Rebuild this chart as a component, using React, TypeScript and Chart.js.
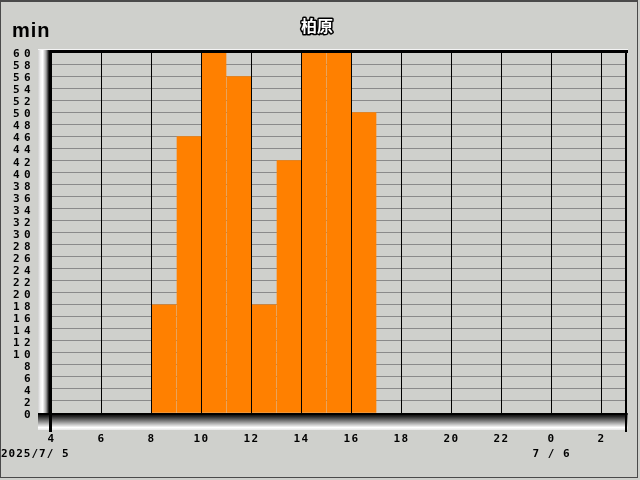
import React, { useEffect, useRef } from 'react';
import { Chart, registerables } from 'chart.js';

Chart.register(...registerables);

// ---- data ----
const stationName = '柏原';
const unitLabel = 'min';
const barStartHours = [8, 9, 10, 11, 12, 13, 14, 15, 16];
const barMinutes = [18, 46, 60, 56, 18, 42, 60, 60, 50];
const xTickHours = [4, 6, 8, 10, 12, 14, 16, 18, 20, 22, 24, 26];
const xTickLabels = ['4', '6', '8', '10', '12', '14', '16', '18', '20', '22', '0', '2'];
const yTickValues = [0, 2, 4, 6, 8, 10, 12, 14, 16, 18, 20, 22, 24, 26, 28, 30, 32, 34, 36, 38, 40, 42, 44, 46, 48, 50, 52, 54, 56, 58, 60];
const dateHours = [4, 24];
const dateLabels = ['2025/7/ 5', '7 / 6'];
const xMin = 4;
const xMax = 27;
const yMin = 0;
const yMax = 60;

// ---- styles ----
const BG = '#cfd0cc';
const BAR = '#ff8000';
const TICK_FONT = 'DejaVu Sans Mono';

const framePlugin = {
  id: 'frame3d',
  beforeDraw(chart: any) {
    const ctx = chart.ctx;
    const { left, right, top, bottom } = chart.chartArea;
    const W = chart.width;
    const H = chart.height;
    ctx.save();
    ctx.fillStyle = BG;
    ctx.fillRect(0, 0, W, H);
    // outer border
    ctx.fillStyle = '#4a4a4a';
    ctx.fillRect(0, 0, W - 2, 2);
    ctx.fillRect(0, 0, 1, H - 2);
    ctx.fillRect(W - 3, 0, 1, H - 2);
    ctx.fillRect(0, H - 3, W - 2, 1);
    // left wall
    const wl = left - 13.5;
    const g1 = ctx.createLinearGradient(wl, 0, left, 0);
    g1.addColorStop(0, '#d0d0d0');
    g1.addColorStop(0.2, '#f4f4f4');
    g1.addColorStop(0.35, '#ffffff');
    g1.addColorStop(0.6, '#a0a0a0');
    g1.addColorStop(0.78, '#202020');
    g1.addColorStop(1, '#000000');
    ctx.fillStyle = g1;
    ctx.fillRect(wl, top - 2.5, left - wl, bottom - top + 2.5);
    // floor
    const g2 = ctx.createLinearGradient(0, bottom, 0, bottom + 17);
    g2.addColorStop(0, '#000000');
    g2.addColorStop(0.18, '#202020');
    g2.addColorStop(0.5, '#888888');
    g2.addColorStop(0.85, '#ffffff');
    g2.addColorStop(1, '#e8e8e8');
    ctx.fillStyle = g2;
    ctx.fillRect(wl, bottom, right + 1 - wl, 17);
    // top highlight
    ctx.fillStyle = '#f4f4f4';
    ctx.fillRect(wl, top - 3.5, right + 1.5 - wl, 1);
    ctx.restore();
    (ctx as any).letterSpacing = '4.4px';
  },
  afterDatasetsDraw(chart: any) {
    (chart.ctx as any).letterSpacing = '1.5px';
  },
  afterDraw(chart: any) {
    const ctx = chart.ctx;
    const { left, right, top, bottom } = chart.chartArea;
    const xs = chart.scales.x;
    ctx.save();
    ctx.fillStyle = '#000';
    // top and right frame
    ctx.fillRect(left - 1.5, top - 2.5, right - left + 3, 3);
    ctx.fillRect(right - 1.5, top - 1.5, 2, bottom - top + 1.5);
    // axes
    ctx.fillRect(left - 13.5, bottom, right + 1 - (left - 13.5), 2);
    ctx.fillRect(left - 2.5, top - 1.5, 3, bottom - top + 20.5);
    ctx.fillRect(right - 1.5, bottom, 2, 19);
    ctx.restore();

    // date labels
    ctx.save();
    (ctx as any).letterSpacing = '1px';
    ctx.font = `bold 11px ${TICK_FONT}`;
    ctx.fillStyle = '#000';
    ctx.textBaseline = 'middle';
    dateHours.forEach((h, i) => {
      const px = xs.getPixelForValue(h);
      if (i === 0) {
        ctx.textAlign = 'left';
        ctx.fillText(dateLabels[i], 1, 454);
      } else {
        ctx.textAlign = 'center';
        ctx.fillText(dateLabels[i], px, 454);
      }
    });
    ctx.restore();

    // title
    ctx.save();
    (ctx as any).letterSpacing = '0px';
    ctx.font = 'bold 16px "Noto Sans CJK JP"';
    ctx.textAlign = 'center';
    ctx.textBaseline = 'middle';
    ctx.lineJoin = 'round';
    ctx.lineWidth = 3;
    ctx.strokeStyle = '#000';
    ctx.strokeText(stationName, 317, 25.5);
    ctx.fillStyle = '#fff';
    ctx.fillText(stationName, 317, 25.5);
    // unit
    ctx.font = 'bold 20px "Liberation Sans"';
    ctx.textAlign = 'left';
    ctx.textBaseline = 'alphabetic';
    ctx.fillStyle = '#000';
    (ctx as any).letterSpacing = '1px';
    ctx.fillText(unitLabel, 12, 37);
    ctx.restore();
    (ctx as any).letterSpacing = '0px';
  },
};

export default function App() {
  const ref = useRef<HTMLCanvasElement>(null);

  useEffect(() => {
    document.body.style.margin = '0';
    const canvas = ref.current;
    if (!canvas) return;
    const chart = new Chart(canvas, {
      type: 'bar',
      data: {
        datasets: [
          {
            data: barStartHours.map((h, i) => ({ x: h + 0.5, y: barMinutes[i] })),
            backgroundColor: BAR,
            borderWidth: 0,
            barThickness: 24,
          },
        ],
      },
      options: {
        animation: false,
        responsive: false,
        devicePixelRatio: 1,
        events: [],
        layout: { padding: { top: 52.5, right: 13.5, left: 0, bottom: 0 } },
        plugins: {
          legend: { display: false },
          title: { display: false },
          tooltip: { enabled: false },
        },
        scales: {
          x: {
            type: 'linear',
            min: xMin,
            max: xMax,
            offset: false,
            grid: { offset: false, color: '#000', lineWidth: 1, drawTicks: false, z: 1 },
            border: { display: false },
            ticks: {
              z: 2,
              autoSkip: false,
              maxRotation: 0,
              padding: 20,
              color: '#000',
              font: { family: TICK_FONT, size: 11, weight: 'bold' },
              callback: (v: any) => {
                const i = xTickHours.indexOf(Number(v));
                return i >= 0 ? xTickLabels[i] : '';
              },
            },
            afterBuildTicks: (scale: any) => {
              scale.ticks = xTickHours.map((v) => ({ value: v }));
            },
            afterFit: (scale: any) => {
              scale.height = 67;
            },
          },
          y: {
            type: 'linear',
            min: yMin,
            max: yMax,
            grid: { color: '#8a8a8a', lineWidth: 1, drawTicks: false },
            border: { display: false },
            ticks: {
              autoSkip: false,
              padding: 16.5,
              labelOffset: 2,
              color: '#000',
              font: { family: TICK_FONT, size: 11, weight: 'bold' },
            },
            afterBuildTicks: (scale: any) => {
              scale.ticks = yTickValues.map((v) => ({ value: v }));
            },
            afterFit: (scale: any) => {
              scale.width = 51.5;
            },
          },
        },
      } as any,
      plugins: [framePlugin],
    });
    return () => chart.destroy();
  }, []);

  return (
    <div style={{ position: 'fixed', left: 0, top: 0, width: 640, height: 480 }}>
      <canvas ref={ref} width={640} height={480} style={{ display: 'block' }} />
    </div>
  );
}
